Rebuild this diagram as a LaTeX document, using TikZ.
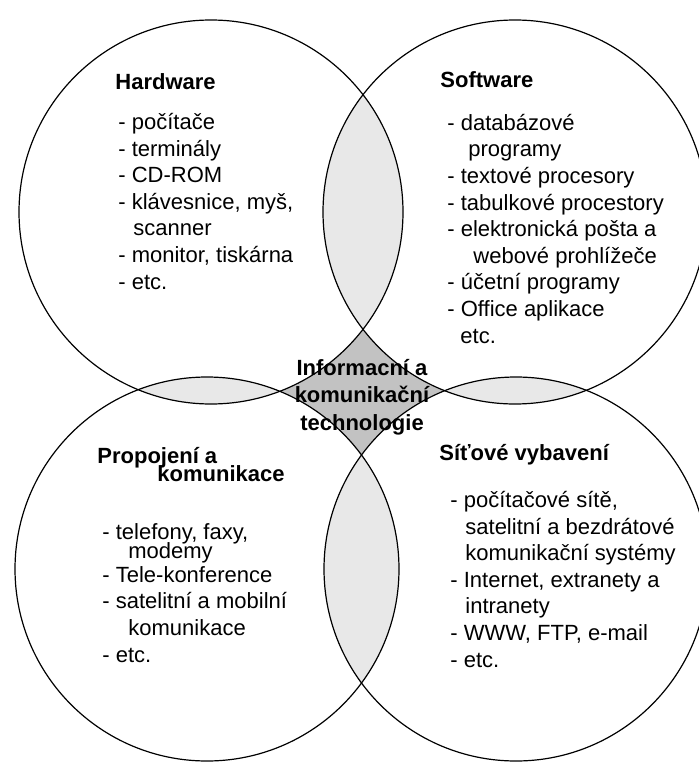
\documentclass[tikz,border=0pt]{standalone}
\usepackage{fontspec}
\setmainfont{Liberation Sans}
\definecolor{lensgray}{gray}{0.91}
\definecolor{coregray}{gray}{0.76}
\tikzstyle{ring} = [draw=black, line width=0.6pt]
% multi-line nodes sit on the baseline of their last line
\tikzstyle{heading} = [font=\bfseries\fontsize{11}{13.3}\selectfont,
    anchor=base west, inner sep=0pt, align=left]
\tikzstyle{itemlist} = [font=\fontsize{11}{13.3}\selectfont,
    anchor=base west, inner sep=0pt, align=left]

\begin{document}
\begin{tikzpicture}[x=0.5pt, y=-0.5pt]
\useasboundingbox (0,0) rectangle (699,765);
\clip (0,0) rectangle (699,765);
\coordinate (hw) at (211,212);
\coordinate (sw) at (515,212);
\coordinate (pk) at (207,569);
\coordinate (sv) at (516,569);
\def\rad{192}
% the middle piece left over between the circles
\fill[coregray] (hw) rectangle (sv);
\foreach \c in {hw,sw,pk,sv}
    \fill[white] (\c) circle[radius=\rad];
% overlaps of neighbours
\foreach \a/\b in {hw/sw, hw/pk, sw/sv, pk/sv}{
    \begin{scope}
        \clip (\a) circle[radius=\rad];
        \fill[lensgray] (\b) circle[radius=\rad];
    \end{scope}
}
\foreach \c in {hw,sw,pk,sv}
    \draw[ring] (\c) circle[radius=\rad];

\node[heading] (hwtitle) at (115,90) {Hardware};
\node[itemlist] (hwlist) at (118,289) {- počítače\\- terminály\\- CD-ROM\\
    - klávesnice, myš,\\\hspace*{7.5pt}scanner\\- monitor, tiskárna\\- etc.};

\node[heading] (swtitle) at (440,88) {Software};
\node[itemlist] (swlist) at (447,343) {- databázové\\\hspace*{10.5pt}programy\\
    - textové procesory\\- tabulkové procestory\\- elektronická pošta a\\
    \hspace*{13pt}webové prohlížeče\\- účetní programy\\- Office aplikace\\
    \hspace*{6.5pt}etc.};

\node[heading] (pktitle) at (97,481) {Propojení a\\[-4.3pt]\hspace*{30pt}komunikace};
\node[itemlist] (pklist) at (102,662) {- telefony, faxy,\\[-3.8pt]\hspace*{13pt}modemy\\[-1.3pt]
    - Tele-konference\\- satelitní a mobilní\\\hspace*{13pt}komunikace\\- etc.};

\node[heading] (svtitle) at (439,460) {Síťové vybavení};
\node[itemlist] (svlist) at (450,667) {- počítačové sítě,\\
    \hspace*{7.5pt}satelitní a bezdrátové\\\hspace*{7.5pt}komunikační systémy\\
    - Internet, extranety a\\\hspace*{7.5pt}intranety\\- WWW, FTP, e-mail\\- etc.};

\node[heading, anchor=base, align=center] (ikt) at (362,430)
    {Informacní a\\[0.4pt]komunikační\\[0.4pt]technologie};
\end{tikzpicture}
\end{document}
